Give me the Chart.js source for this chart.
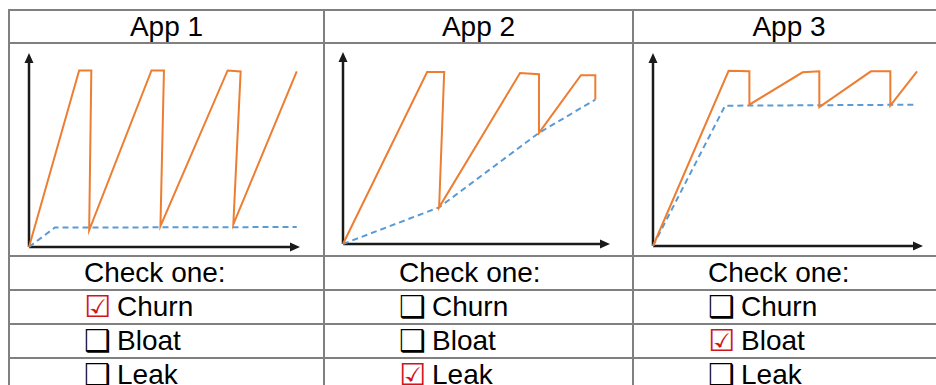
<!DOCTYPE html>
<html>
<head>
<meta charset="UTF-8">
<title>Churn / Bloat / Leak</title>
<script src="https://cdn.jsdelivr.net/npm/chart.js"></script>
<style>
    html, body { margin: 0; padding: 0; background: #fff; overflow: hidden; }
    body { width: 936px; height: 385px; position: relative; }
    #grid {
        position: absolute; left: 8px; top: 9px;
        display: grid;
        grid-template-columns: 313px 307px 310px;
        grid-template-rows: 31px 211px 32px 32px 32px 32px;
        gap: 2px; padding: 2px;
        background: #808080;
    }
    .cell {
        background: #fff;
        font-family: "Liberation Sans", Arial, sans-serif;
        font-size: 28px; line-height: 32px; color: #000;
        white-space: nowrap; position: relative;
    }
    .head { text-align: center; line-height: 31px; }
    .opt { padding-left: 74px; }
    .box {
        font-family: "DejaVu Sans", sans-serif; font-size: 30px; font-weight: bold;
        display: inline-block; width: 33px; line-height: 32px; vertical-align: top;
    }
    .on { color: #d0141c; }
    canvas { position: absolute; left: 0; top: 0; }
</style>
</head>
<body>
<div id="grid">
    <div class="cell head">App 1</div>
    <div class="cell head">App 2</div>
    <div class="cell head">App 3</div>
    <div class="cell"><canvas id="c1" width="313" height="211"></canvas></div>
    <div class="cell"><canvas id="c2" width="307" height="211"></canvas></div>
    <div class="cell"><canvas id="c3" width="310" height="211"></canvas></div>
    <div class="cell opt">Check one:</div>
    <div class="cell opt">Check one:</div>
    <div class="cell opt">Check one:</div>
    <div class="cell opt"><span class="box on">☑</span>Churn</div>
    <div class="cell opt"><span class="box">❑</span>Churn</div>
    <div class="cell opt"><span class="box">❑</span>Churn</div>
    <div class="cell opt"><span class="box">❑</span>Bloat</div>
    <div class="cell opt"><span class="box">❑</span>Bloat</div>
    <div class="cell opt"><span class="box on">☑</span>Bloat</div>
    <div class="cell opt"><span class="box">❑</span>Leak</div>
    <div class="cell opt"><span class="box on">☑</span>Leak</div>
    <div class="cell opt"><span class="box">❑</span>Leak</div>
</div>

<script>
    // total memory (orange) and live memory (blue dashed), axes run 0..100
    const app1TotalX = [0, 18.5, 23.0, 22.2, 45.2, 49.8, 48.5, 73.3, 78.1, 75.4, 98.8];
    const app1TotalY = [0, 91.0, 91.0, 8.6, 91.0, 91.0, 10.7, 91.0, 90.5, 11.7, 90.5];
    const app1LiveX = [0, 9.5, 98.8];
    const app1LiveY = [0, 10.0, 10.3];

    const app2TotalX = [0, 31.5, 37.9, 36.0, 66.3, 73.4, 73.4, 89.1, 94.5, 94.5];
    const app2TotalY = [0, 89.6, 89.6, 19.1, 89.1, 88.4, 57.9, 87.9, 87.9, 75.2];
    const app2LiveX = [0, 36.0, 73.4, 94.5];
    const app2LiveY = [0, 19.1, 57.9, 75.2];

    const app3TotalX = [0, 28.0, 35.7, 35.7, 55.4, 61.6, 61.6, 80.7, 87.9, 87.9, 97.8];
    const app3TotalY = [0, 90.8, 90.5, 73.2, 90.0, 90.5, 72.0, 90.5, 90.5, 72.7, 90.5];
    const app3LiveX = [0, 26.7, 97.8];
    const app3LiveY = [0, 72.7, 73.2];

    function points(xs, ys) {
        return xs.map((x, i) => ({ x: x, y: ys[i] }));
    }

    // black axes with arrow heads
    const arrowAxes = {
        id: 'arrowAxes',
        beforeDatasetsDraw(chart) {
            const ctx = chart.ctx;
            const x = chart.scales.x, y = chart.scales.y;
            const x0 = x.getPixelForValue(0), x1 = x.getPixelForValue(100);
            const y0 = y.getPixelForValue(0), y1 = y.getPixelForValue(100);
            ctx.save();
            ctx.strokeStyle = '#1a1a1a';
            ctx.fillStyle = '#1a1a1a';
            ctx.lineWidth = 2.5;
            ctx.beginPath();
            ctx.moveTo(x0, y0);
            ctx.lineTo(x1 - 6, y0);
            ctx.moveTo(x0, y0);
            ctx.lineTo(x0, y1 + 6);
            ctx.stroke();
            ctx.beginPath();
            ctx.moveTo(x1, y0);
            ctx.lineTo(x1 - 10, y0 - 4.5);
            ctx.lineTo(x1 - 10, y0 + 4.5);
            ctx.closePath();
            ctx.moveTo(x0, y1);
            ctx.lineTo(x0 - 4.5, y1 + 10);
            ctx.lineTo(x0 + 4.5, y1 + 10);
            ctx.closePath();
            ctx.fill();
            ctx.restore();
        }
    };

    function makeChart(id, totalX, totalY, liveX, liveY, pad) {
        new Chart(document.getElementById(id), {
            type: 'line',
            data: {
                datasets: [{
                    label: 'Total',
                    data: points(totalX, totalY),
                    borderColor: '#ED7D31',
                    borderWidth: 2,
                    pointRadius: 0,
                    tension: 0,
                    clip: false
                }, {
                    label: 'Live',
                    data: points(liveX, liveY),
                    borderColor: '#5B9BD5',
                    borderWidth: 2,
                    borderDash: [6, 4],
                    pointRadius: 0,
                    tension: 0,
                    clip: false
                }]
            },
            options: {
                responsive: false,
                animation: false,
                events: [],
                layout: { padding: pad },
                plugins: { legend: { display: false }, tooltip: { enabled: false } },
                scales: {
                    x: { type: 'linear', min: 0, max: 100, display: false },
                    y: { type: 'linear', min: 0, max: 100, display: false }
                }
            },
            plugins: [arrowAxes]
        });
    }

    makeChart('c1', app1TotalX, app1TotalY, app1LiveX, app1LiveY, { left: 19, top: 9, right: 23, bottom: 8 });
    makeChart('c2', app2TotalX, app2TotalY, app2LiveX, app2LiveY, { left: 18, top: 8, right: 22, bottom: 11 });
    makeChart('c3', app3TotalX, app3TotalY, app3LiveX, app3LiveY, { left: 19, top: 9, right: 21, bottom: 9 });
</script>
</body>
</html>
